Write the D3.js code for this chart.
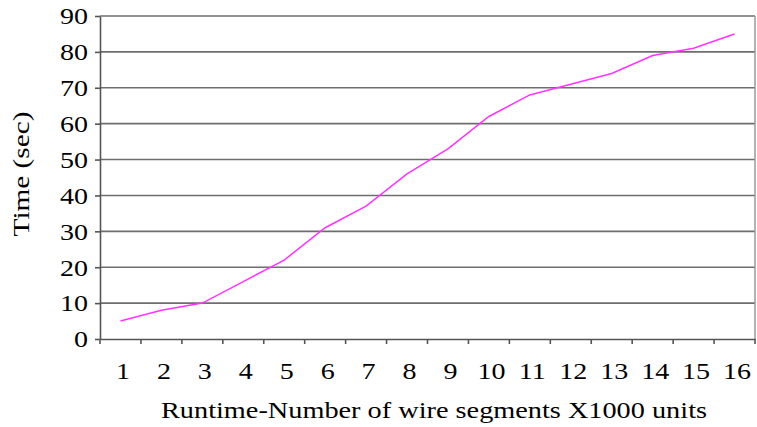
<!DOCTYPE html>
<html>
<head>
<meta charset="utf-8">
<script src="https://cdn.jsdelivr.net/npm/d3@7"></script>
<style>
  body { margin: 0; background: #fff; }
  text { font-family: "Liberation Serif", "Times New Roman", serif; fill: #000; }
</style>
</head>
<body>
<div id="chart"></div>
<script>
const categories = ["1","2","3","4","5","6","7","8","9","10","11","12","13","14","15","16"]
const timeValues = [5, 8, 10, 16, 22, 31, 37, 46, 53, 62, 68, 71, 74, 79, 81, 85]
const yTicks = [0, 10, 20, 30, 40, 50, 60, 70, 80, 90]

const margin = {top: 16, right: 2, bottom: 88, left: 100},
    width = 757 - margin.left - margin.right,
    height = 427 - margin.top - margin.bottom;

// the reference font is a bit wide, so stretch the text sideways
const stretch = 1.22

const svg = d3.select("#chart")
    .append("svg")
    .attr("width", 757)
    .attr("height", 427)
    .append("g")
    .attr("transform", `translate(${margin.left}, ${margin.top})`);

var x = d3.scaleBand()
    .domain(categories)
    .range([0, width])
    .padding(0)

var y = d3.scaleLinear()
    .domain([0, 90])
    .range([height, 0])

// gridlines
svg.append("g")
    .selectAll("line")
    .data(yTicks.slice(1))
    .enter().append("line")
    .attr("x1", 0)
    .attr("x2", width)
    .attr("y1", d => y(d))
    .attr("y2", d => y(d))
    .attr("stroke", "#6e6e6e")
    .attr("stroke-width", 1.6)

// right border
svg.append("line")
    .attr("x1", width).attr("x2", width)
    .attr("y1", 0).attr("y2", height)
    .attr("stroke", "#9a9a9a")
    .attr("stroke-width", 1.5)

// x axis
var xAxis = svg.append("g")
    .attr("transform", "translate(0," + height + ")")
    .call(d3.axisBottom(x).tickSize(0).tickSizeOuter(0))
xAxis.select(".domain").attr("stroke", "#555").attr("stroke-width", 1.6)
xAxis.selectAll(".tick text")
    .attr("y", 0)
    .attr("dy", 0)
    .attr("transform", `translate(2.5, 40) scale(${stretch}, 1)`)
    .style("font-size", "23px")
xAxis.selectAll(".band-tick")
    .data(d3.range(categories.length + 1))
    .enter().append("line")
    .attr("x1", d => d * x.step())
    .attr("x2", d => d * x.step())
    .attr("y1", 0).attr("y2", 5)
    .attr("stroke", "#555")
    .attr("stroke-width", 1.6)

// y axis
var yAxis = svg.append("g")
    .call(d3.axisLeft(y).tickValues(yTicks).tickSize(5).tickSizeOuter(0))
yAxis.select(".domain").attr("stroke", "#555").attr("stroke-width", 1.6)
yAxis.selectAll(".tick line").attr("stroke", "#555").attr("stroke-width", 1.6)
yAxis.selectAll(".tick text")
    .attr("x", 0)
    .attr("dy", "0.34em")
    .attr("transform", `translate(-12, 0) scale(${stretch}, 1)`)
    .style("font-size", "23px")

// line
var line = d3.line()
    .x((d, i) => x(categories[i]) + x.bandwidth() / 2)
    .y(d => y(d))

svg.append("path")
    .datum(timeValues)
    .attr("fill", "none")
    .attr("stroke", "#ff33ff")
    .attr("stroke-width", 1.5)
    .attr("d", line)

// axis titles
svg.append("text")
    .attr("x", width / 2 + 6.5)
    .attr("y", height + 79)
    .attr("text-anchor", "middle")
    .attr("textLength", 546)
    .attr("lengthAdjust", "spacingAndGlyphs")
    .style("font-size", "23px")
    .text("Runtime-Number of wire segments X1000 units")

svg.append("text")
    .attr("transform", `translate(${-margin.left + 29}, ${158}) rotate(-90)`)
    .attr("text-anchor", "middle")
    .attr("textLength", 125)
    .attr("lengthAdjust", "spacingAndGlyphs")
    .style("font-size", "23px")
    .text("Time (sec)")
</script>
</body>
</html>
